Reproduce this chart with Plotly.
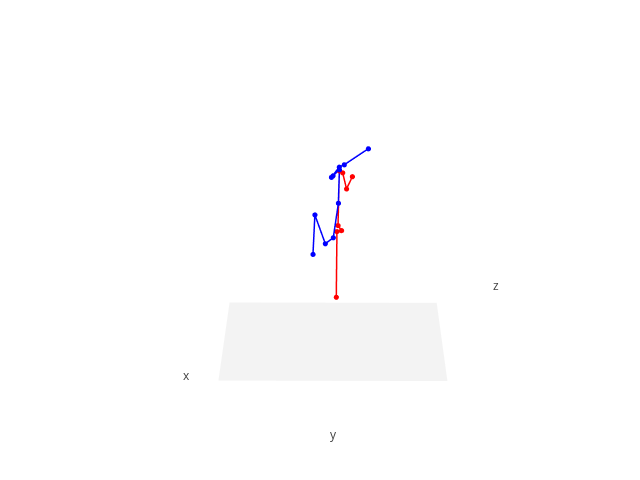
import plotly.graph_objects as go

# x = height, y = horizontal, z = depth
blue_x = [4.418, 5.936, 4.853, 5.090, 6.341, 7.397, 7.216, 7.170, 7.476, 7.544, 7.997]
blue_y = [-0.149, -0.124, -0.056, 0.002, 0.036, 0.040, 0.0, -0.010, 0.039, 0.070, 0.213]
blue_z = [0, 0, 0, 0, 0, 0, 0, 0, 0, 0, 0]

red_x = [2.415, 5.310, 5.349, 5.536, 7.352, 7.292, 6.795, 7.177]
red_y = [0.027, 0.028, 0.060, 0.035, 0.040, 0.061, 0.088, 0.123]
red_z = [0.01, 0.01, 0.01, 0.01, 0.01, 0.01, 0.01, 0.01]

x_range = [0, 10]
y_range = [-1, 1]
z_range = [-1, 1]

axis_titles = ["x", "y", "z"]

fig = go.Figure()
fig.add_trace(go.Scatter3d(x=red_x, y=red_y, z=red_z, mode="lines+markers",
                           line=dict(color="red", width=3),
                           marker=dict(color="red", size=3), showlegend=False))
fig.add_trace(go.Scatter3d(x=blue_x, y=blue_y, z=blue_z, mode="lines+markers",
                           line=dict(color="blue", width=3),
                           marker=dict(color="blue", size=3), showlegend=False))

ax_common = dict(showgrid=False, zeroline=False, showticklabels=False, title=dict(text=""),
                 showline=False, ticks="", showspikes=False, showbackground=False)

# axis-title labels placed in paper coordinates
title_pos = {"x": (0.2557, 0.209), "y": (0.5, 0.081), "z": (0.7723, 0.403)}
annotations = [dict(text=t, x=title_pos[t][0], y=title_pos[t][1], xref="paper", yref="paper",
                    xanchor="center", yanchor="middle",
                    showarrow=False, font=dict(size=12, color="#444"))
               for t in axis_titles]

fig.update_layout(
    template="none",
    paper_bgcolor="white",
    margin=dict(l=26, r=0, t=0, b=0),
    annotations=annotations,
    scene=dict(
        xaxis=dict(range=x_range, **{**ax_common, "showbackground": True},
                   backgroundcolor="rgb(243,243,243)"),
        yaxis=dict(range=y_range, **ax_common),
        zaxis=dict(range=z_range, **ax_common),
        aspectmode="manual",
        aspectratio=dict(x=1.441, y=1, z=0.405),
        camera=dict(eye=dict(x=1.557, y=0.003, z=-1.286), up=dict(x=1, y=0, z=0)),
    ),
)
fig.write_html("out.html")
